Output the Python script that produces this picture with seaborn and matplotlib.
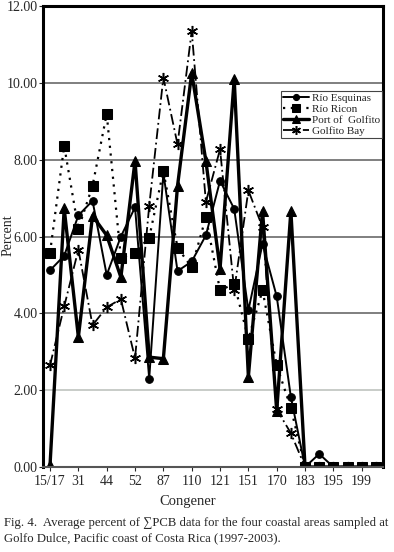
import matplotlib
matplotlib.use("Agg")
import matplotlib.pyplot as plt
import seaborn as sns
import numpy as np

sns.set_style("ticks")
plt.rcParams["font.family"] = ["Liberation Serif", "DejaVu Serif"]

# 24 congener positions, only every other one is labelled on the axis
tick_labels = ["15/17", "31", "44", "52", "87", "110", "121", "151", "170", "183", "195", "199"]
n_cat = 24

rio_esquinas = [5.12, 5.50, 6.55, 6.93, 5.00, 6.00, 6.76, 2.30, 7.65, 5.10, 5.35, 6.03,
                7.45, 6.72, 4.08, 5.81, 4.44, 1.82, 0.00, 0.34, 0.00, 0.00, 0.00, 0.00]
rio_ricon = [5.58, 8.36, 6.20, 7.32, 9.19, 5.45, 5.58, 5.97, 7.71, 5.71, 5.20, 6.50,
             4.60, 4.77, 3.34, 4.60, 2.65, 1.53, 0.00, 0.00, 0.00, 0.00, 0.00, 0.00]
port_golfito = [0.05, 6.73, 3.38, 6.54, 6.03, 4.94, 7.97, 2.86, 2.82, 7.32, 10.26, 7.97,
                5.16, 10.10, 2.35, 6.67, 1.45, 6.67, 0.00, 0.00, 0.00, 0.00, 0.00, 0.00]
golfito_bay = [2.65, 4.18, 5.66, 3.69, 4.16, 4.37, 2.83, 6.80, 10.14, 8.40, 11.35, 6.90,
               8.27, 4.60, 7.20, 6.24, 1.50, 0.88, 0.00, 0.00, 0.00, 0.00, 0.00, 0.00]

x = np.arange(n_cat)

fig = plt.figure(figsize=(3.94, 5.52), dpi=100)
ax = fig.add_axes([0.109, 0.154, 0.863, 0.835])

# horizontal gridlines
for v in [2, 4, 6, 8, 10]:
    ax.axhline(v, color="#bfc4bf" if v == 2 else "#6a6a6a", lw=1.2, zorder=0)

sns.lineplot(x=x, y=rio_esquinas, ax=ax, color="black", lw=1.4, marker="o",
             markersize=5.5, markeredgecolor="black", label="Río Esquinas")
sns.lineplot(x=x, y=rio_ricon, ax=ax, color="black", lw=1.6, linestyle=(0, (1, 2.5)),
             marker="s", markersize=6.5, markeredgecolor="black", label="Río Ricon")
sns.lineplot(x=x, y=port_golfito, ax=ax, color="black", lw=2.4, marker="^",
             markersize=7, markeredgecolor="black", label="Port of  Golfito")
sns.lineplot(x=x, y=golfito_bay, ax=ax, color="black", lw=1.3, linestyle=(0, (6, 2, 1, 2)),
             marker=(6, 2, 0), markersize=8, markeredgewidth=1.1, markeredgecolor="black",
             label="Golfito Bay")

ax.set_xlim(-0.5, n_cat - 0.5)
ax.set_ylim(0, 12)
ax.set_yticks(np.arange(0, 13, 2))
ax.set_yticklabels([f"{v:.2f}" for v in np.arange(0, 13, 2)], fontsize=10)
ax.set_xticks(x[::2])
ax.set_xticklabels(tick_labels, fontsize=10)
ax.tick_params(axis="x", length=3, pad=3)
ax.tick_params(axis="y", length=3, pad=1)

for side in ["left", "top", "right"]:
    ax.spines[side].set_linewidth(2.2)
    ax.spines[side].set_color("black")
ax.spines["bottom"].set_linewidth(1.5)
ax.spines["bottom"].set_color("#555555")

fig.text(0.02, 0.574, "Percent", fontsize=10, rotation=90, ha="center", va="center")
fig.text(188 / 394, 1 - 502 / 552, "Congener", fontsize=10.5, ha="center", va="center")

leg = ax.legend(loc="upper left", bbox_to_anchor=(0.70, 0.816), fontsize=8,
                frameon=True, fancybox=False, edgecolor="#444444", framealpha=1,
                borderpad=0.2, labelspacing=0.12, handlelength=2.3, handletextpad=0.3,
                borderaxespad=0, markerscale=0.8)
leg.get_frame().set_linewidth(0.8)

fig.text(0.010, 1 - 523 / 552,
         "Fig. 4.  Average percent of \u2211PCB data for the four coastal areas sampled at",
         fontsize=9.2, ha="left", va="center")
fig.text(0.010, 1 - 538 / 552, "Golfo Dulce, Pacific coast of Costa Rica (1997-2003).",
         fontsize=9.2, ha="left", va="center")

fig.savefig("out.png", dpi=100)
